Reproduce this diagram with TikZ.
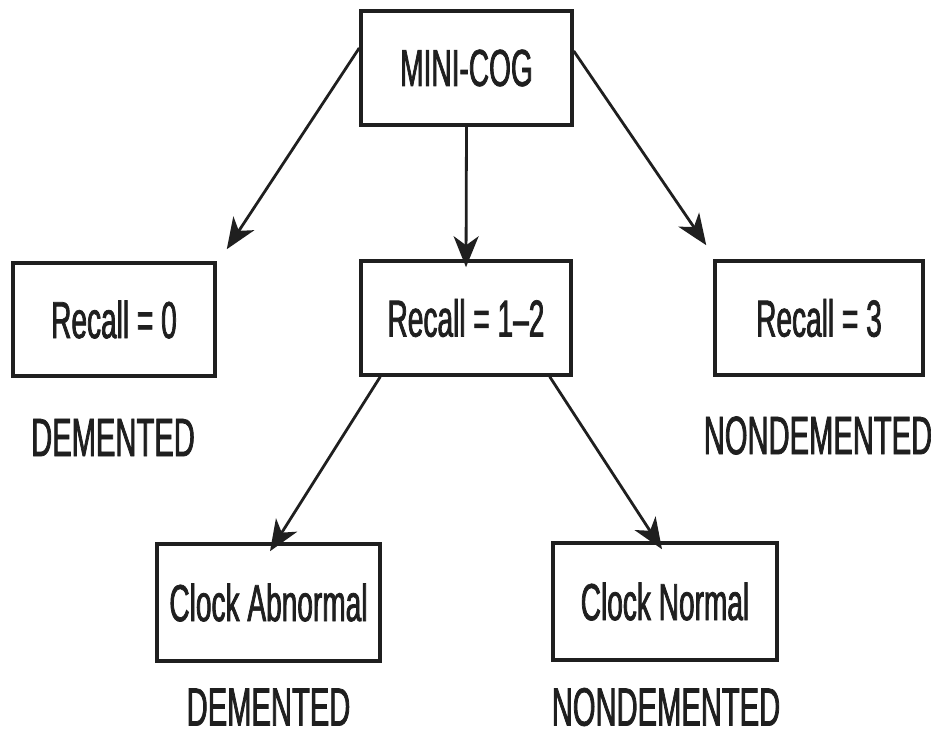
\documentclass[tikz,border=0pt]{standalone}
\usepackage{fontspec}
\newfontfamily\narrowfont[FakeStretch=0.54,FakeBold=1.4]{Liberation Sans}
\usetikzlibrary{arrows.meta}
\begin{document}
\begin{tikzpicture}[x=1pt,y=-1pt,
  box/.style={draw=black!88, line width=3.5pt, fill=white, inner sep=0pt,
    font=\narrowfont\fontsize{52}{60}\selectfont, text=black!88},
  lbl/.style={inner sep=0pt, font=\narrowfont\fontsize{54}{60}\selectfont, text=black!88},
  arr/.style={draw=black!88, line width=2.8pt, -{Stealth[length=31pt,width=25pt,inset=9pt]}}]
\useasboundingbox (0,0) rectangle (931,738);
\node[box, minimum width=211pt, minimum height=114pt] (mini) at (466.5,68) {MINI-COG};
\node[box, minimum width=202pt, minimum height=113pt] (r0) at (114,319.5) {Recall = 0};
\node[box, minimum width=210pt, minimum height=114pt] (r12) at (466,318) {Recall = 1–2};
\node[box, minimum width=208pt, minimum height=114pt] (r3) at (819,318) {Recall = 3};
\node[box, minimum width=223pt, minimum height=117pt] (ca) at (268.5,602.5) {Clock Abnormal};
\node[box, minimum width=224pt, minimum height=117pt] (cn) at (665,601.5) {Clock Normal};
\node[lbl] (d1) at (113,437.5) {DEMENTED};
\node[lbl] (n1) at (818,435.5) {NONDEMENTED};
\node[lbl] (d2) at (268.5,707) {DEMENTED};
\node[lbl] (n2) at (666,707) {NONDEMENTED};
\coordinate (t0) at ([xshift=10pt,yshift=12pt]r0.north east);
\coordinate (t12) at ([yshift=-8pt]r12.north);
\coordinate (t3) at ([xshift=-7pt,yshift=14pt]r3.north west);
\coordinate (tca) at ([xshift=1.5pt,yshift=-9pt]ca.north);
\coordinate (tcn) at ([xshift=-3pt,yshift=-8pt]cn.north);
\draw[arr] ([yshift=20pt]mini.west) -- (t0);
\draw[arr] (mini.south) -- (t12);
\draw[arr] ([yshift=17pt]mini.east) -- (t3);
\draw[arr] ([xshift=21pt]r12.south west) -- (tca);
\draw[arr] ([xshift=-23pt]r12.south east) -- (tcn);
\end{tikzpicture}
\end{document}
